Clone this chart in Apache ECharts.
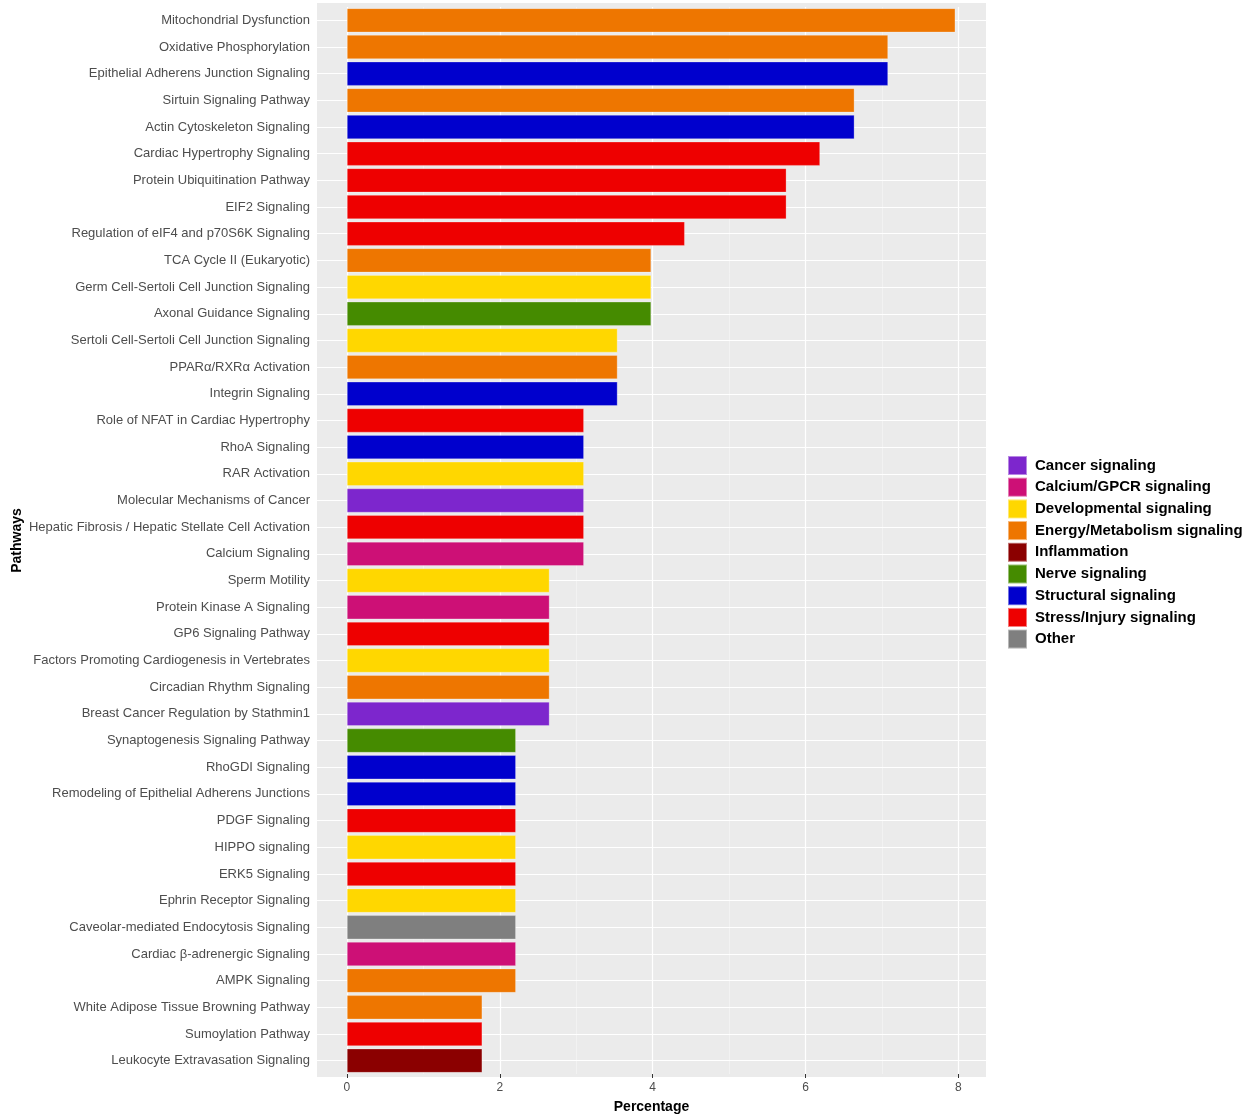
<!DOCTYPE html>
<html>
<head>
<meta charset="utf-8">
<script src="https://cdn.jsdelivr.net/npm/echarts@6/dist/echarts.min.js"></script>
<style>
html,body{margin:0;padding:0;background:#fff;}
#chart{width:1251px;height:1120px;}
</style>
</head>
<body>
<div id="chart"></div>
<script>
const categories = [
  "Mitochondrial Dysfunction","Oxidative Phosphorylation","Epithelial Adherens Junction Signaling",
  "Sirtuin Signaling Pathway","Actin Cytoskeleton Signaling","Cardiac Hypertrophy Signaling",
  "Protein Ubiquitination Pathway","EIF2 Signaling","Regulation of eIF4 and p70S6K Signaling",
  "TCA Cycle II (Eukaryotic)","Germ Cell-Sertoli Cell Junction Signaling","Axonal Guidance Signaling",
  "Sertoli Cell-Sertoli Cell Junction Signaling","PPARα/RXRα Activation","Integrin Signaling",
  "Role of NFAT in Cardiac Hypertrophy","RhoA Signaling","RAR Activation",
  "Molecular Mechanisms of Cancer","Hepatic Fibrosis / Hepatic Stellate Cell Activation","Calcium Signaling",
  "Sperm Motility","Protein Kinase A Signaling","GP6 Signaling Pathway",
  "Factors Promoting Cardiogenesis in Vertebrates","Circadian Rhythm Signaling","Breast Cancer Regulation by Stathmin1",
  "Synaptogenesis Signaling Pathway","RhoGDI Signaling","Remodeling of Epithelial Adherens Junctions",
  "PDGF Signaling","HIPPO signaling","ERK5 Signaling",
  "Ephrin Receptor Signaling","Caveolar-mediated Endocytosis Signaling","Cardiac β-adrenergic Signaling",
  "AMPK Signaling","White Adipose Tissue Browning Pathway","Sumoylation Pathway",
  "Leukocyte Extravasation Signaling"
];
const percentages = [
  7.96,7.08,7.08,
  6.64,6.64,6.19,
  5.75,5.75,4.42,
  3.98,3.98,3.98,
  3.54,3.54,3.54,
  3.10,3.10,3.10,
  3.10,3.10,3.10,
  2.65,2.65,2.65,
  2.65,2.65,2.65,
  2.21,2.21,2.21,
  2.21,2.21,2.21,
  2.21,2.21,2.21,
  2.21,1.77,1.77,
  1.77
];
const groupOf = [
  "Energy/Metabolism signaling","Energy/Metabolism signaling","Structural signaling",
  "Energy/Metabolism signaling","Structural signaling","Stress/Injury signaling",
  "Stress/Injury signaling","Stress/Injury signaling","Stress/Injury signaling",
  "Energy/Metabolism signaling","Developmental signaling","Nerve signaling",
  "Developmental signaling","Energy/Metabolism signaling","Structural signaling",
  "Stress/Injury signaling","Structural signaling","Developmental signaling",
  "Cancer signaling","Stress/Injury signaling","Calcium/GPCR signaling",
  "Developmental signaling","Calcium/GPCR signaling","Stress/Injury signaling",
  "Developmental signaling","Energy/Metabolism signaling","Cancer signaling",
  "Nerve signaling","Structural signaling","Structural signaling",
  "Stress/Injury signaling","Developmental signaling","Stress/Injury signaling",
  "Developmental signaling","Other","Calcium/GPCR signaling",
  "Energy/Metabolism signaling","Energy/Metabolism signaling","Stress/Injury signaling",
  "Inflammation"
];
const groups = ["Cancer signaling","Calcium/GPCR signaling","Developmental signaling","Energy/Metabolism signaling",
  "Inflammation","Nerve signaling","Structural signaling","Stress/Injury signaling","Other"];
const groupColors = ["#7D26CD","#CD1076","#FFD700","#EE7600","#8B0000","#458B00","#0000CD","#EE0000","#7F7F7F"];
const majorTicks = [0,2,4,6,8];
const minorTicks = [1,3,5,7];

const gridLines = [];
majorTicks.forEach(v => gridLines.push({xAxis: v, lineStyle: {color: '#ffffff', width: 1.2, type: 'solid'}}));
minorTicks.forEach(v => gridLines.push({xAxis: v, lineStyle: {color: '#f7f7f7', width: 0.6, type: 'solid'}}));
categories.forEach((c, i) => gridLines.push({yAxis: i, lineStyle: {color: '#ffffff', width: 1.2, type: 'solid'}}));

const series = groups.map((g, gi) => ({
  name: g,
  type: 'bar',
  stack: 'all',
  barCategoryGap: '10%',
  z: 2,
  itemStyle: {color: groupColors[gi], borderColor: 'rgba(255,255,255,0.45)', borderWidth: 0.6},
  data: percentages.map((v, i) => groupOf[i] === g ? v : null),
  markLine: gi === 0 ? {
    silent: true, symbol: 'none', z: 1, animation: false,
    label: {show: false}, emphasis: {disabled: true},
    data: gridLines
  } : undefined
}));

const chart = echarts.init(document.getElementById('chart'), null, {renderer: 'canvas'});
chart.setOption({
  animation: false,
  backgroundColor: '#ffffff',
  textStyle: {fontFamily: 'Liberation Sans, Arial, sans-serif'},
  graphic: [{
    type: 'rect', silent: true, z: -10,
    shape: {x: 317, y: 3, width: 669, height: 1074},
    style: {fill: '#EBEBEB'}
  }],
  grid: {left: 317, top: 7, width: 669, height: 1067, show: false, containLabel: false, outerBoundsMode: 'none'},
  legend: {
    orient: 'vertical', left: 1002, top: 450,
    itemWidth: 19, itemHeight: 19, itemGap: 0.7,
    icon: 'rect',
    data: groups,
    textStyle: {fontSize: 15, fontWeight: 'bold', color: '#000', fontFamily: 'Liberation Sans, Arial, sans-serif', lineHeight: 19, padding: [0,0,0,3]},
    selectedMode: false
  },
  xAxis: {
    type: 'value', min: -0.392, max: 8.362,
    name: 'Percentage', nameLocation: 'middle', nameGap: 26, nameMoveOverlap: false,
    nameTextStyle: {fontSize: 14, fontWeight: 'bold', color: '#000'},
    axisLine: {show: false},
    splitLine: {show: false},
    axisTick: {show: true, customValues: majorTicks, length: 4, lineStyle: {color: '#333'}},
    axisLabel: {customValues: majorTicks, fontSize: 12, color: '#4D4D4D', margin: 8, showMinLabel: true, showMaxLabel: true}
  },
  yAxis: {
    type: 'category', data: categories, inverse: true,
    name: 'Pathways', nameLocation: 'middle', nameGap: 293, nameRotate: 90, nameMoveOverlap: false,
    nameTextStyle: {fontSize: 14, fontWeight: 'bold', color: '#000'},
    axisLine: {show: false},
    axisTick: {show: true, alignWithLabel: true, length: 4, lineStyle: {color: '#333'}},
    axisLabel: {fontSize: 13, color: '#4D4D4D', margin: 7, interval: 0},
    splitLine: {show: false}
  },
  series: series
});
</script>
</body>
</html>
